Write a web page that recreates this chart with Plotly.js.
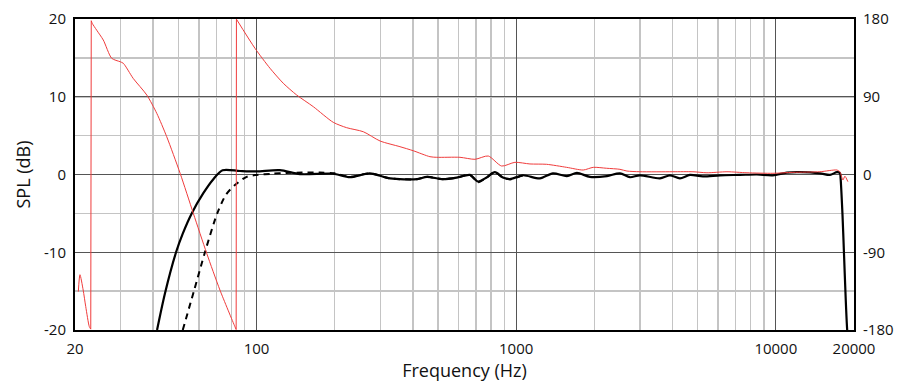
<!DOCTYPE html>
<html>
<head>
<meta charset="utf-8">
<script src="https://cdn.plot.ly/plotly-3.0.1.min.js"></script>
<style>html,body{margin:0;padding:0;background:#fff;}#chart{width:900px;height:385px;}</style>
</head>
<body>
<div id="chart"></div>
<script>
// Solid SPL curve
var splFreq = [41.4, 44.4, 49.0, 52.0, 56.3, 62.4, 68.2, 74, 86.4, 100, 123, 147, 197, 229, 273, 327, 415, 453, 522, 591, 664, 712, 772, 828, 889, 946, 1062, 1234, 1385, 1568, 1714, 1924, 2236, 2510, 2742, 2996, 3578, 3910, 4272, 4668, 5238, 6090, 7272, 8456, 9744, 11028, 12380, 14780, 16150, 17190, 17650, 17760, 18050, 18830, 19000];
var splDb = [-20, -15.3, -10, -7.6, -5, -2.4, -0.6, 0.55, 0.45, 0.4, 0.55, 0.05, 0.1, -0.35, 0.15, -0.5, -0.6, -0.3, -0.6, -0.4, -0.05, -0.9, -0.35, 0.3, -0.4, -0.6, -0.1, -0.5, 0.15, -0.2, 0.2, -0.3, -0.2, 0.15, -0.35, -0.1, -0.5, -0.1, -0.5, -0.05, -0.25, -0.1, -0.05, 0, -0.1, 0.25, 0.3, 0.15, -0.05, 0.3, 0.2, -0.5, -5, -20, -21];

// Dashed SPL curve
var dashFreq = [52, 57.4, 63.3, 70.6, 76.3, 82.6, 91.6, 100, 115, 130, 150, 175, 200, 229, 273, 327, 415, 453, 522, 591, 664, 712, 772, 828, 889, 946, 1062];
var dashDb = [-20, -15, -10, -5, -2.6, -1.35, -0.3, -0.05, 0.1, 0.2, 0.25, 0.25, 0.15, -0.3, 0.15, -0.5, -0.6, -0.3, -0.6, -0.4, -0.05, -1.0, -0.35, 0.3, -0.4, -0.6, -0.1];

// Phase curve (right axis), wrapped at +/-180
var phaseFreq = [20.6, 20.9, 21.5, 22.0, 22.7, 23.0, 23.1, 23.3, 24.25, 25.7, 27.7, 29.8, 30.7, 33.5, 37.8, 41.3, 45.1, 50.8, 57.1, 64.3, 72.3, 82.6, 83.5, 83.7, 98.7, 112.7, 126.8, 142.8, 165.5, 197.5, 222.4, 257.9, 299, 356.8, 401.5, 465.6, 494.2, 607.5, 694, 780.8, 879.1, 989, 1130, 1310, 1564, 1813, 1981, 2231, 2510, 2670, 2996, 4015, 4795, 5428, 6483, 7742, 9744, 11636, 14780, 17190, 17650, 18130, 18450, 18950];
var phaseDeg = [-135.6, -116, -133.7, -153, -176, -179, 178, 175, 167, 155.7, 134.5, 130.6, 128.7, 111.3, 92, 70.8, 43.8, 1.4, -44.9, -91.2, -133.7, -176.2, -179.5, 179.8, 146, 123, 105.6, 92, 78.5, 60.4, 54.2, 49.5, 38.8, 32.2, 27.5, 20.6, 19.9, 19.9, 17.6, 21.4, 9.8, 14.1, 12.2, 11.8, 8.3, 5.2, 8.3, 7.2, 6.0, 4, 3.2, 3.2, 3.2, 2, 3.2, 2, 1.4, 2.5, 3.2, 5.2, 3.2, -6.4, -2, -8.3];

var xTickVals = [20, 100, 1000, 10000, 20000];
var xTickText = ['20', '100', '1000', '10000', '20000'];
var xMinorVals = [30, 40, 50, 60, 70, 80, 90, 200, 300, 400, 500, 600, 700, 800, 900, 2000, 3000, 4000, 5000, 6000, 7000, 8000, 9000];
var yTickVals = [-20, -10, 0, 10, 20];
var yTickText = ['-20', '-10', '0', '10', '20'];
var y2TickVals = [-180, -90, 0, 90, 180];
var y2TickText = ['-180', '-90', '0', '90', '180'];

var font = 'Open Sans, Lato, sans-serif';
var red = '#f03c3c';

// split phase into smooth segments at wrap jumps; jumps drawn as straight lines
var segs = [{x: [], y: []}];
var jumpX = [], jumpY = [];
for (var i = 0; i < phaseFreq.length; i++) {
  if (i > 0 && Math.abs(phaseDeg[i] - phaseDeg[i - 1]) > 180) {
    jumpX.push(phaseFreq[i - 1], phaseFreq[i], null);
    jumpY.push(phaseDeg[i - 1], phaseDeg[i], null);
    segs.push({x: [], y: []});
  }
  segs[segs.length - 1].x.push(phaseFreq[i]);
  segs[segs.length - 1].y.push(phaseDeg[i]);
}

var traces = [];
segs.forEach(function (s) {
  traces.push({x: s.x, y: s.y, yaxis: 'y2', mode: 'lines', line: {color: red, width: 1, shape: 'spline', smoothing: 0.7}, hoverinfo: 'skip'});
});
traces.push({x: jumpX, y: jumpY, yaxis: 'y2', mode: 'lines', line: {color: red, width: 1}, hoverinfo: 'skip'});
traces.push({x: dashFreq, y: dashDb, mode: 'lines', line: {color: '#000', width: 2, dash: '6px,5px', shape: 'spline', smoothing: 0.8}, hoverinfo: 'skip'});
traces.push({x: splFreq, y: splDb, mode: 'lines', line: {color: '#000', width: 2.2, shape: 'spline', smoothing: 0.8}, hoverinfo: 'skip'});

var layout = {
  width: 900, height: 385,
  margin: {l: 75, r: 46, t: 19, b: 55},
  paper_bgcolor: '#fff', plot_bgcolor: '#fff',
  showlegend: false,
  font: {family: font, size: 15, color: '#111'},
  xaxis: {
    type: 'log', range: [Math.log10(20), Math.log10(20000)],
    tickmode: 'array', tickvals: xTickVals, ticktext: xTickText,
    ticks: '', showgrid: true, gridcolor: '#555', gridwidth: 1,
    minor: {tickmode: 'array', tickvals: xMinorVals, showgrid: true, gridcolor: '#c4c4c4', gridwidth: 1.5, ticks: ''},
    showline: true, linecolor: '#000', linewidth: 2, mirror: true,
    zeroline: false, ticklabelstandoff: 4,
    title: {text: 'Frequency (Hz)', font: {size: 18, family: font}, standoff: 7}
  },
  yaxis: {
    range: [-20, 20], tickmode: 'array', tickvals: yTickVals, ticktext: yTickText,
    ticks: '', showgrid: true, gridcolor: '#555', gridwidth: 1,
    minor: {dtick: 5, showgrid: true, gridcolor: '#c4c4c4', gridwidth: 1.5, ticks: ''},
    showline: true, linecolor: '#000', linewidth: 2, mirror: true,
    zeroline: false, ticklabelstandoff: 4,
    title: {text: 'SPL (dB)', font: {size: 18, family: font}, standoff: 9}
  },
  yaxis2: {
    overlaying: 'y', side: 'right', range: [-180, 180],
    tickmode: 'array', tickvals: y2TickVals, ticktext: y2TickText,
    ticks: '', showgrid: false, zeroline: false,
    showline: true, linecolor: '#000', linewidth: 2, ticklabelstandoff: 4
  }
};

Plotly.newPlot('chart', traces, layout, {staticPlot: true, displayModeBar: false});
</script>
</body>
</html>
